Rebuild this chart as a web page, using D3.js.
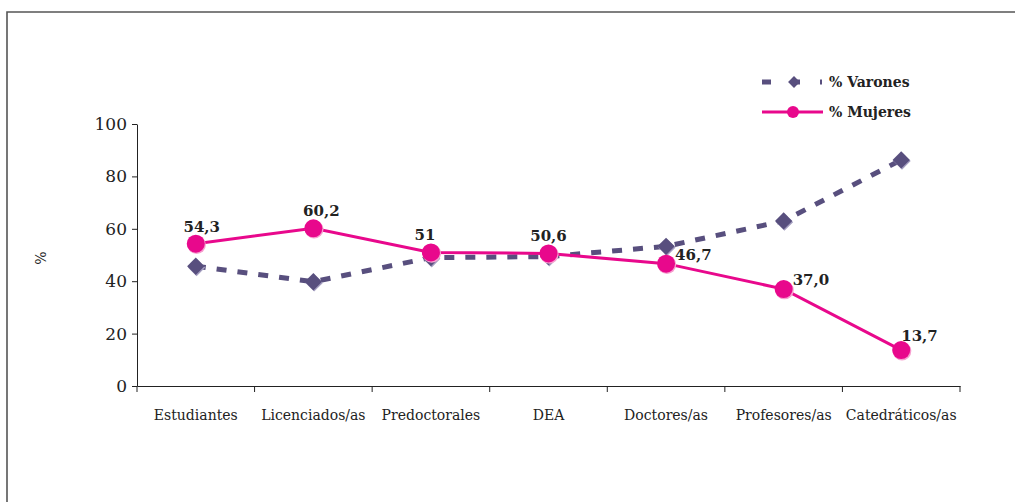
<!DOCTYPE html>
<html><head><meta charset="utf-8">
<script src="https://cdn.jsdelivr.net/npm/d3@7/dist/d3.min.js"></script>
<style>
html,body{margin:0;padding:0;background:#fff;}
svg{display:block;}
text{font-family:"DejaVu Serif","Liberation Serif",serif;fill:#222;}
</style></head>
<body>
<svg id="c" width="1015" height="502"></svg>
<script>
const categories = ["Estudiantes","Licenciados/as","Predoctorales","DEA","Doctores/as","Profesores/as","Catedráticos/as"];
const varones = [45.7, 39.8, 49.0, 49.4, 53.3, 63.0, 86.3];
const mujeres = [54.3, 60.2, 51.0, 50.6, 46.7, 37.0, 13.7];
const mujeresLabels = ["54,3","60,2","51","50,6","46,7","37,0","13,7"];
const yTicks = [0, 20, 40, 60, 80, 100];
const seriesNames = ["% Varones", "% Mujeres"];

const svg = d3.select("#c");
const colV = "#584f7e", colM = "#e8088c";

// frame (top and left)
svg.append("path").attr("d","M7,502 L7,12 L1015,12").attr("fill","none")
  .attr("stroke","#555").attr("stroke-width",1.6);

const x = d3.scaleBand().domain(categories).range([137, 960]);
const y = d3.scaleLinear().domain([0, 100]).range([386, 124]);
const cx = d => x(d) + x.bandwidth()/2;

// y axis
const ya = svg.append("g").attr("transform","translate(137,0)")
  .call(d3.axisLeft(y).tickValues(yTicks).tickSize(5).tickPadding(5).tickSizeOuter(0));
ya.select(".domain").attr("stroke","#222");
ya.selectAll(".tick line").attr("stroke","#222");
ya.selectAll("text").style("font-size","17px").style("font-family","DejaVu Serif, serif").attr("fill","#222");

// x axis
const xa = svg.append("g").attr("transform","translate(0,386)")
  .call(d3.axisBottom(x).tickSize(0).tickPadding(24));
xa.select(".domain").attr("stroke","#222");
xa.selectAll("text").style("font-size","14px").style("font-family","DejaVu Serif, serif").attr("fill","#222");
// boundary ticks
const bounds = categories.map(c => x(c)).concat([x(categories[categories.length-1]) + x.bandwidth()]);
svg.append("g").selectAll("line").data(bounds).join("line")
  .attr("x1", d=>d).attr("x2", d=>d).attr("y1",386).attr("y2",392)
  .attr("stroke","#222");

// y title
svg.append("text").attr("transform","translate(46,258) rotate(-90)")
  .attr("text-anchor","middle").style("font-size","14px").text("%");

// Varones line
const line = d3.line().x((d,i)=>cx(categories[i])).y(d=>y(d));
svg.append("path").datum(varones).attr("d", line).attr("fill","none")
  .attr("stroke", colV).attr("stroke-width",5).attr("stroke-dasharray","10,11");
const sq = d3.symbol().type(d3.symbolSquare).size(150);
const vg = svg.append("g");
vg.selectAll("path.sh").data(varones).join("path").attr("class","sh")
  .attr("d", sq).attr("transform",(d,i)=>`translate(${cx(categories[i])+0.8},${y(d)+1.2}) rotate(45)`)
  .attr("fill","#a49ec0");
vg.selectAll("path.mk").data(varones).join("path").attr("class","mk")
  .attr("d", sq)
  .attr("transform",(d,i)=>`translate(${cx(categories[i])},${y(d)}) rotate(45)`)
  .attr("fill", colV);

// Mujeres line
svg.append("path").datum(mujeres).attr("d", line).attr("fill","none")
  .attr("stroke", colM).attr("stroke-width",3);
const mg = svg.append("g");
mg.selectAll("circle.sh").data(mujeres).join("circle").attr("class","sh")
  .attr("cx",(d,i)=>cx(categories[i])+0.8).attr("cy",d=>y(d)+1).attr("r",9.3).attr("fill","#f6a0cf");
mg.selectAll("circle.mk").data(mujeres).join("circle").attr("class","mk")
  .attr("cx",(d,i)=>cx(categories[i])).attr("cy",d=>y(d)).attr("r",9).attr("fill",colM);

// data labels: first four above, rest to the upper right
svg.append("g").selectAll("text").data(mujeres).join("text")
  .attr("x",(d,i)=> i < 4 ? cx(categories[i]) + [6,8,-6,0][i] : cx(categories[i]) + [9,9,0][i-4])
  .attr("y",(d,i)=> i < 4 ? y(d) - 12 : y(d) - [4,4,9][i-4])
  .attr("text-anchor",(d,i)=> i < 4 ? "middle" : "start")
  .style("font-size","15px").style("font-weight","bold")
  .text((d,i)=>mujeresLabels[i]);

// legend
const lg = svg.append("g");
lg.append("line").attr("x1",762).attr("x2",822).attr("y1",82).attr("y2",82)
  .attr("stroke",colV).attr("stroke-width",5).attr("stroke-dasharray","9,20");
lg.append("path").attr("d", d3.symbol().type(d3.symbolSquare).size(70))
  .attr("transform","translate(794,82) rotate(45)").attr("fill",colV);
lg.append("line").attr("x1",762).attr("x2",823).attr("y1",112).attr("y2",112)
  .attr("stroke",colM).attr("stroke-width",3);
lg.append("circle").attr("cx",793).attr("cy",112).attr("r",6).attr("fill",colM);
lg.selectAll("text").data(seriesNames).join("text")
  .attr("x",829).attr("y",(d,i)=>82+30*i+5)
  .style("font-size","14px").style("font-weight","bold").text(d=>d);
</script>
</body></html>
